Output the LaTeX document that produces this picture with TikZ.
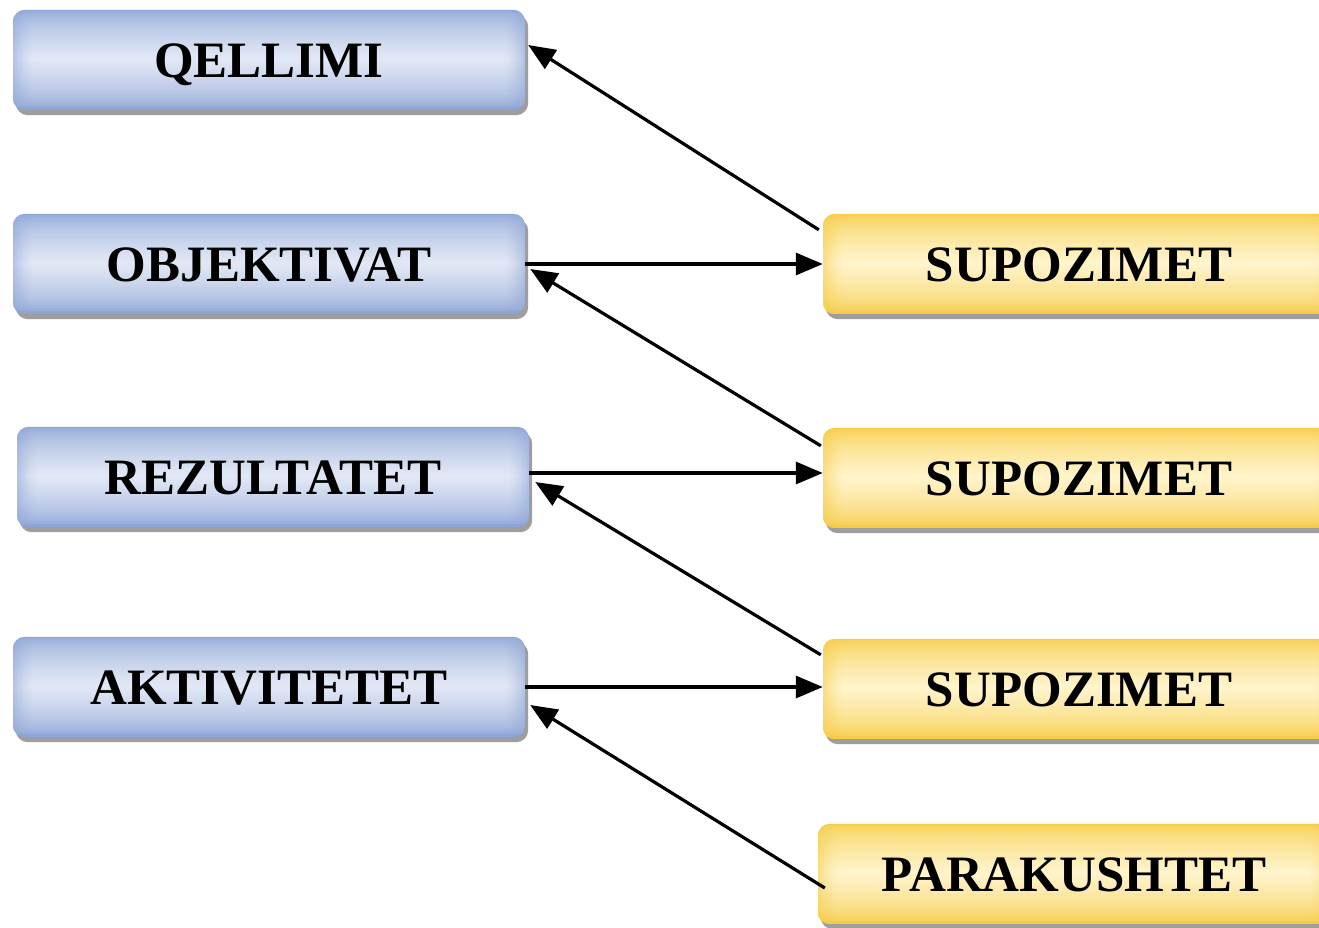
\documentclass[tikz,border=0pt]{standalone}
\usepackage{fontspec}
\setmainfont{Liberation Serif}
\usetikzlibrary{arrows.meta,calc}
\definecolor{blueD}{HTML}{8CA4D6}
\definecolor{blueL}{HTML}{E2E8F5}
\definecolor{yelD}{HTML}{F6CB45}
\definecolor{yelL}{HTML}{FFF4CC}
\tikzset{
  box/.style={rectangle, minimum width=512pt, minimum height=100pt,
    font=\fontsize{51}{57}\selectfont\bfseries, text=black, inner sep=0pt},
  label/.style={box, text height=34pt, text depth=0pt},
  shadowfill/.style={fill=black!38, rounded corners=12pt},
  arr/.style={line width=3.2pt, -{Triangle[length=27pt,width=22pt]}}
}
% #1 node name, #2 dark colour, #3 light colour
\newcommand{\boxbg}[3]{%
  \fill[shadowfill] ($(#1.north west)+(3,-5)$) rectangle ($(#1.south east)+(3,-5)$);
  \begin{scope}
    \clip[rounded corners=12pt] (#1.north west) rectangle (#1.south east);
    \foreach \i in {0,...,49}{%
      \pgfmathsetmacro\ff{100*(1-abs(2*\i/49-1))^0.6}%
      \fill[#3!\ff!#2] ($(#1.north west)+(0,-2*\i+0.4)$) rectangle ($(#1.north east)+(0,-2*\i-2.4)$);
    }
    \foreach \j in {0,...,9}{%
      \pgfmathsetmacro\oo{0.5*(1-\j/10)^1.5}%
      \fill[#2, opacity=\oo] ($(#1.north west)+(2*\j,0)$) rectangle ($(#1.south west)+(2*\j+2,0)$);
      \fill[#2, opacity=\oo] ($(#1.north east)+(-2*\j,0)$) rectangle ($(#1.south east)+(-2*\j-2,0)$);
    }
  \end{scope}
}
\begin{document}
\begin{tikzpicture}[x=1pt,y=1pt]
\clip (0,0) rectangle (1319,-927);
\fill[white] (0,0) rectangle (1319,-927);
\path node[box] (qel) at (269,-60) {} node[box] (obj) at (269,-264) {}
      node[box] (rez) at (273,-477) {} node[box] (akt) at (269,-687) {}
      node[box] (s1) at (1079,-264) {} node[box] (s2) at (1079,-478) {}
      node[box] (s3) at (1079,-689) {} node[box] (par) at (1074,-874) {};
\boxbg{qel}{blueD}{blueL}
\boxbg{obj}{blueD}{blueL}
\boxbg{rez}{blueD}{blueL}
\boxbg{akt}{blueD}{blueL}
\boxbg{s1}{yelD}{yelL}
\boxbg{s2}{yelD}{yelL}
\boxbg{s3}{yelD}{yelL}
\boxbg{par}{yelD}{yelL}
\node[label] at (qel) {QELLIMI};
\node[label] at (obj) {OBJEKTIVAT};
\node[label] at (rez) {REZULTATET};
\node[label] at (akt) {AKTIVITETET};
\node[label] at (s1) {SUPOZIMET};
\node[label] at (s2) {SUPOZIMET};
\node[label] at (s3) {SUPOZIMET};
\node[label] at (par) {PARAKUSHTET};
\draw[arr] ($(s1.north west)+(-4,-16)$) -- ($(qel.east)+(3,15)$);
\draw[arr] (obj.east) -- (obj.east -| s1.west);
\draw[arr] ($(s2.north west)+(-2,-18)$) -- ($(obj.east)+(5,-5)$);
\draw[arr] ($(rez.east)+(0,4)$) -- ($(rez.east -| s2.west)+(0,4)$);
\draw[arr] ($(s3.north west)+(-2,-16)$) -- ($(rez.east)+(6,-5)$);
\draw[arr] (akt.east) -- (akt.east -| s3.west);
\draw[arr] ($(par.west)+(7,-14)$) -- ($(akt.east)+(5,-18)$);
\end{tikzpicture}
\end{document}
